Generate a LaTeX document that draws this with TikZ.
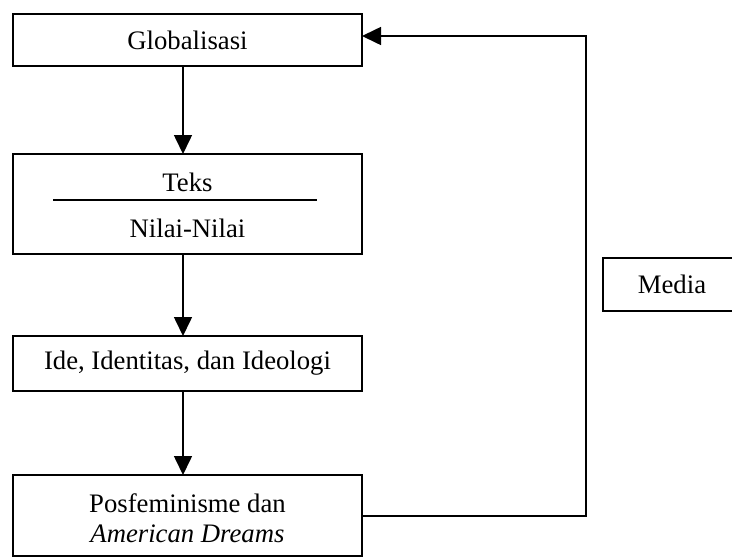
\documentclass[tikz,border=0pt]{standalone}
\usepackage{fontspec}
\setmainfont{Liberation Serif}
\usetikzlibrary{arrows.meta}
\begin{document}
\begin{tikzpicture}[x=1pt,y=-1pt,
  box/.style={draw, line width=1.6pt, inner sep=0pt, minimum width=349pt},
  lbl/.style={inner sep=0pt, font=\fontsize{26.7}{30}\selectfont},
  conn/.style={line width=1.6pt, -{Triangle[length=19pt,width=18pt]}}]
\useasboundingbox (0,0) rectangle (732,558);
\clip (0,0) rectangle (732,558);
\node[box, minimum height=52pt] (glob) at (187.5,40) {};
\node[lbl] at (glob.center) {Globalisasi};
\node[box, minimum height=100pt] (teks) at (187.5,204) {};
\node[lbl] (t1) at (187.5,182) {Teks};
\node[lbl] (t2) at (187.5,228) {Nilai-Nilai};
\coordinate (la) at (53,200);
\coordinate (lb) at (317,200);
\draw[line width=1.6pt] (la) -- (lb);
\node[box, minimum height=55pt] (ide) at (187.5,363.5) {};
\node[lbl] at (ide.center) {Ide, Identitas, dan Ideologi};
\node[box, minimum height=81pt] (pos) at (187.5,515.5) {};
\node[lbl, align=center] at (187.5,518) {Posfeminisme dan\\\textit{American Dreams}};
\node[box, minimum width=138pt, minimum height=53pt] (media) at (672,284.5) {};
\node[lbl] at (672,284) {Media};
\coordinate (g1) at (183,66);
\coordinate (g2) at (183,154);
\coordinate (g3) at (183,254);
\coordinate (g4) at (183,336);
\coordinate (g5) at (183,391);
\coordinate (g6) at (183,475);
\draw[conn] (g1) -- (g2);
\draw[conn] (g3) -- (g4);
\draw[conn] (g5) -- (g6);
\coordinate (p1) at (362,516);
\coordinate (c1) at (586,516);
\coordinate (c2) at (586,36);
\coordinate (gl) at (362,36);
\draw[conn] (p1) -- (c1) -- (c2) -- (gl);
\end{tikzpicture}
\end{document}
